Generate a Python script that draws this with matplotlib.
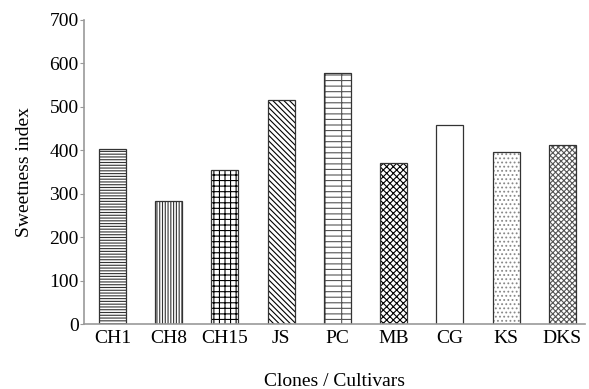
import matplotlib.pyplot as plt

plt.rcParams['font.family'] = ['Liberation Serif', 'DejaVu Serif']
plt.rcParams['hatch.linewidth'] = 0.8

cultivars = ["CH1", "CH8", "CH15", "JS", "PC", "MB", "CG", "KS", "DKS"]
sweetness = [403, 283, 355, 516, 578, 371, 457, 396, 412]
hatches = ["------", "||||||", "+++", "\\\\\\\\\\\\", "---|", "xxxxx", "", "....", "xxxxxx"]
hatch_colors = ["#333333", "#333333", "black", "black", "#555555", "black", "black", "#888888", "#555555"]

fig = plt.figure(figsize=(5.89, 3.89), dpi=100)
ax = fig.add_axes([0.143, 0.167, 0.85, 0.782])

x = range(len(cultivars))
for i in x:
    ax.bar(i, sweetness[i], width=0.48, color="white", edgecolor=hatch_colors[i],
           hatch=hatches[i], linewidth=0)
    ax.bar(i, sweetness[i], width=0.48, color="none", edgecolor="#333333", linewidth=0.9)

ax.set_xlim(-0.5, 8.4)
ax.set_ylim(0, 700)
ax.set_yticks(range(0, 701, 100))
ax.set_xticks(list(x))
ax.set_xticklabels(cultivars)
ax.tick_params(axis="y", labelsize=14, length=3, color="#999999", pad=1)
ax.tick_params(axis="x", labelsize=14, length=0, pad=4)
for s in ["top", "right"]:
    ax.spines[s].set_visible(False)
for s in ["left", "bottom"]:
    ax.spines[s].set_color("#999999")
    ax.spines[s].set_linewidth(1.2)

ax.set_ylabel("Sweetness index", fontsize=14, labelpad=12)
ax.set_xlabel("Clones / Cultivars", fontsize=14, labelpad=19)

fig.savefig("out.png", dpi=100)
